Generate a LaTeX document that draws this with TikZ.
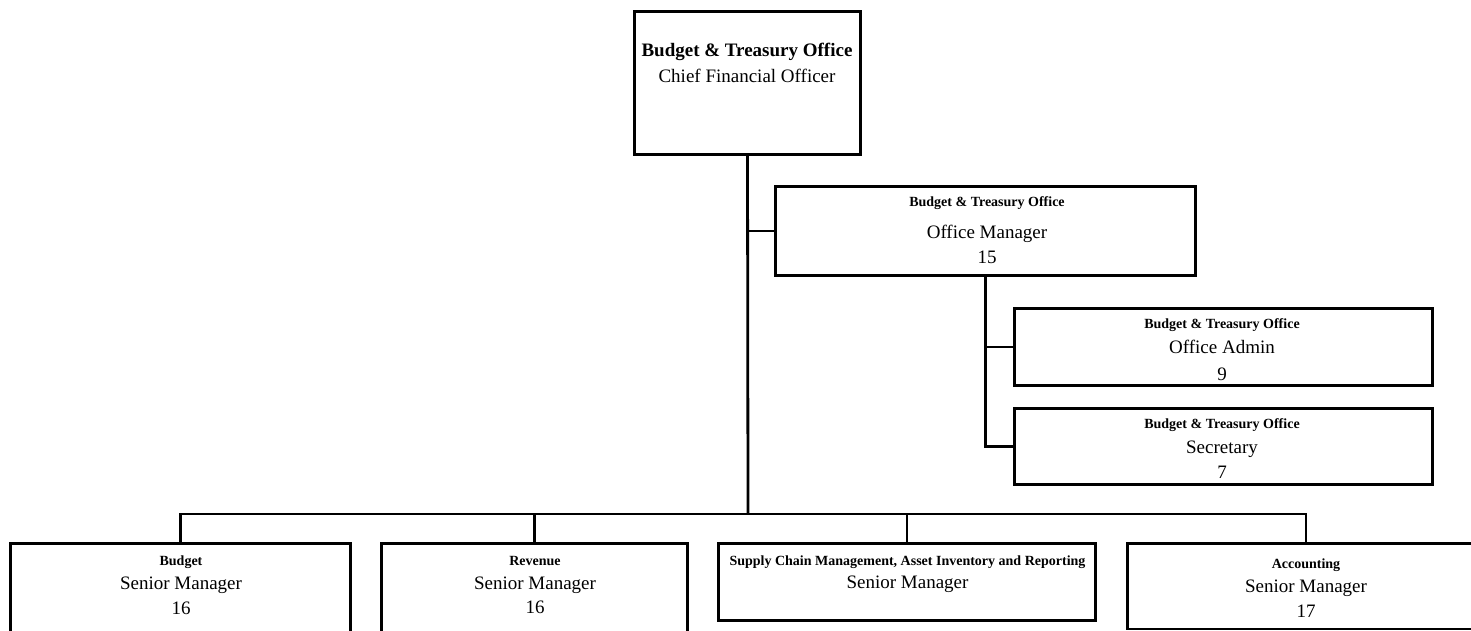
\documentclass[tikz,border=0pt]{standalone}
\usepackage{fontspec}
\setmainfont{Liberation Serif}
\begin{document}
\begin{tikzpicture}[x=1pt,y=-1pt,
  unitbox/.style={draw=black, line width=2.8pt, fill=white, inner sep=0pt, rectangle},
  link/.style={draw=black, line width=2.8pt, line join=miter},
  head/.style={font=\fontsize{14}{14}\selectfont\bfseries, inner sep=0pt, anchor=base},
  bighead/.style={font=\fontsize{19}{19}\selectfont\bfseries, inner sep=0pt, anchor=base},
  role/.style={font=\fontsize{19}{19}\selectfont, inner sep=0pt, anchor=base}]
\useasboundingbox (0,0) rectangle (1471,631);
\clip (0,0) rectangle (1471,631);

% boxes
\node[unitbox, minimum width=226pt, minimum height=143pt] (cfo) at (747.5,83) {};
\node[unitbox, minimum width=420pt, minimum height=89pt]  (om)  at (985.5,231) {};
\node[unitbox, minimum width=418pt, minimum height=77pt]  (adm) at (1223.5,347) {};
\node[unitbox, minimum width=418pt, minimum height=76pt]  (sec) at (1223.5,446.5) {};
\node[unitbox, minimum width=340pt, minimum height=100pt] (bud) at (180.5,593.5) {};
\node[unitbox, minimum width=306pt, minimum height=100pt] (rev) at (534.5,593.5) {};
\node[unitbox, minimum width=377pt, minimum height=77pt]  (scm) at (907,582) {};
\node[unitbox, minimum width=357pt, minimum height=85.5pt] (acc) at (1306,586.25) {};

% connectors
\coordinate (bus) at (748,514);
\draw[link] (cfo.south) -- (bus);
\draw[link] (om.west) -- (om.west -| cfo.south);
\draw[link] (om.south) |- (adm.west);
\draw[link] (om.south) |- (sec.west);
\draw[link] (bud.north) |- (acc.north |- bus) -- (acc.north);
\draw[link] (rev.north) -- (rev.north |- bus);
\draw[link] (scm.north) -- (scm.north |- bus);

% labels
\node[bighead] (cfo-a) at (747,57) {Budget \& Treasury Office};
\node[role]    (cfo-b) at (747,83) {Chief Financial Officer};

\node[head] (om-a) at (987,207) {Budget \& Treasury Office};
\node[role] (om-b) at (987,238) {Office Manager};
\node[role] (om-c) at (987,263) {15};

\node[head] (adm-a) at (1222,328) {Budget \& Treasury Office};
\node[role] (adm-b) at (1222,353) {Office Admin};
\node[role] (adm-c) at (1222,380) {9};

\node[head] (sec-a) at (1222,428) {Budget \& Treasury Office};
\node[role] (sec-b) at (1222,453) {Secretary};
\node[role] (sec-c) at (1222,478) {7};

\node[head] (bud-a) at (181,565) {Budget};
\node[role] (bud-b) at (181,589) {Senior Manager};
\node[role] (bud-c) at (181,614) {16};

\node[head] (rev-a) at (535,565) {Revenue};
\node[role] (rev-b) at (535,589) {Senior Manager};
\node[role] (rev-c) at (535,613) {16};

\node[head] (scm-a) at (907.5,565) {Supply Chain Management, Asset Inventory and Reporting};
\node[role] (scm-b) at (907.5,588) {Senior Manager};

\node[head] (acc-a) at (1306,568) {Accounting};
\node[role] (acc-b) at (1306,592) {Senior Manager};
\node[role] (acc-c) at (1306,617) {17};
\end{tikzpicture}
\end{document}
